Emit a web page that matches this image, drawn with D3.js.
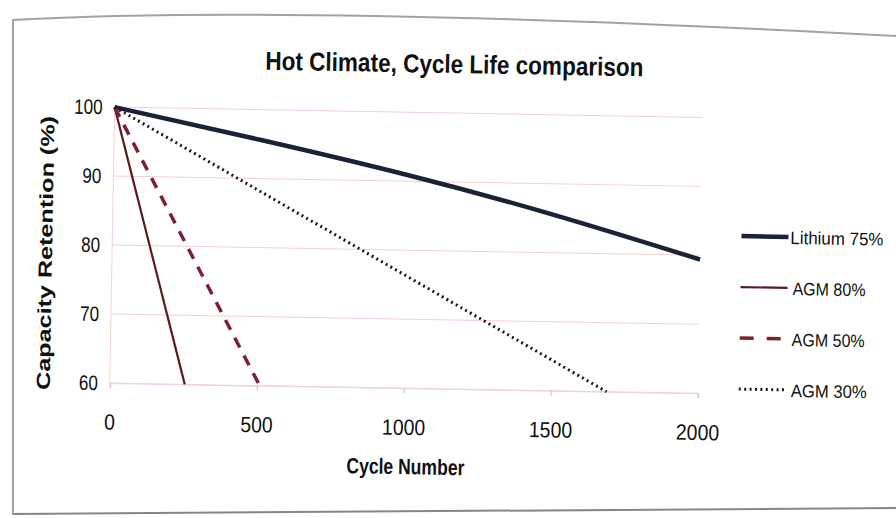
<html>
<head>
  <title>Hot Climate, Cycle Life comparison</title>
  <script src="https://d3js.org/d3.v7.min.js"></script>
  <style>
    body { margin: 0; background: #fff; }
    text { font-family: "Liberation Sans", Arial, sans-serif; fill: #111; }
  </style>
</head>
<body>
<script>
// cycle number / capacity retention
var lithiumX = [0, 500, 1000, 1500, 2000],
    lithiumY = [100, 95.6, 90.9, 85.5, 79.4];
var agm80X = [0, 255], agm80Y = [100, 60];
var agm50X = [0, 510], agm50Y = [100, 60];
var agm30X = [0, 1690], agm30Y = [100, 60];

var seriesNames = ["Lithium 75%", "AGM 80%", "AGM 50%", "AGM 30%"];
var xTicks = [0, 500, 1000, 1500, 2000];
var yTicks = [60, 70, 80, 90, 100];

var width = 896, height = 518;
var svg = d3.select("body").append("svg")
  .attr("width", width).attr("height", height);

// the printed page edge in the photo
svg.append("path")
  .attr("d", "M13,515 L13,20 Q300,4 896,36")
  .attr("fill", "none").attr("stroke", "#a8a0a0").attr("stroke-width", 2);
svg.append("line").attr("x1", 13).attr("x2", 896).attr("y1", 514).attr("y2", 508)
  .attr("stroke", "#8a8585").attr("stroke-width", 2);

var g = svg.append("g").attr("transform", "rotate(1 450 260)");

var x = d3.scaleLinear().domain([0, 2000]).range([112, 700]);
var y = d3.scaleLinear().domain([60, 100]).range([389, 113]);

// gridlines
g.append("g").selectAll("line").data(yTicks).enter().append("line")
  .attr("x1", x(0)).attr("x2", x(2000))
  .attr("y1", d => y(d)).attr("y2", d => y(d))
  .attr("stroke", "#f3cfcf").attr("stroke-width", 1);

g.append("line").attr("x1", x(0)).attr("x2", x(0)).attr("y1", y(100)).attr("y2", y(60))
  .attr("stroke", "#efd3d3");

var xAxis = g.append("g").attr("transform", "translate(0," + y(60) + ")")
  .call(d3.axisBottom(x).tickValues(xTicks).tickFormat(d3.format("d")).tickSize(5).tickPadding(26));
xAxis.select(".domain").attr("stroke", "#efd3d3");
xAxis.selectAll(".tick line").attr("stroke", "#cbbcbc");
xAxis.selectAll("text").attr("font-size", 22).attr("fill", "#111")
  .attr("textLength", d => String(d).length * 10.8).attr("lengthAdjust", "spacingAndGlyphs");

var yAxis = g.append("g").attr("transform", "translate(" + x(0) + ",0)")
  .call(d3.axisLeft(y).tickValues(yTicks).tickSize(0).tickPadding(12));
yAxis.select(".domain").remove();
yAxis.selectAll("text").attr("font-size", 21).attr("fill", "#111")
  .attr("textLength", d => String(d).length * 9.5).attr("lengthAdjust", "spacingAndGlyphs");

var line = d3.line().x(d => x(d[0])).y(d => y(d[1]));
var zip = (xs, ys) => xs.map((v, i) => [v, ys[i]]);

var styles = [
  { data: zip(lithiumX, lithiumY), color: "#1b2238", w: 4.5, dash: null, curve: d3.curveNatural },
  { data: zip(agm80X, agm80Y), color: "#5e1a1f", w: 2.2, dash: null },
  { data: zip(agm50X, agm50Y), color: "#7b2230", w: 3.5, dash: "11,9" },
  { data: zip(agm30X, agm30Y), color: "#1a1a1a", w: 3, dash: "2,3.4" }
];

styles.forEach(function(s) {
  g.append("path").datum(s.data)
    .attr("d", line.curve(s.curve || d3.curveLinear))
    .attr("fill", "none")
    .attr("stroke", s.color)
    .attr("stroke-width", s.w)
    .attr("stroke-dasharray", s.dash);
});

// title and axis titles
g.append("text").attr("x", 451).attr("y", 73).attr("text-anchor", "middle")
  .attr("font-size", 26).attr("font-weight", "bold")
  .attr("textLength", 378).attr("lengthAdjust", "spacingAndGlyphs")
  .text("Hot Climate, Cycle Life comparison");
g.append("text").attr("x", 409).attr("y", 475).attr("text-anchor", "middle")
  .attr("font-size", 22).attr("font-weight", "bold")
  .attr("textLength", 118).attr("lengthAdjust", "spacingAndGlyphs")
  .text("Cycle Number");
g.append("text").attr("transform", "translate(52,260) rotate(-90)").attr("text-anchor", "middle")
  .attr("font-size", 19).attr("font-weight", "bold")
  .attr("textLength", 274).attr("lengthAdjust", "spacingAndGlyphs")
  .text("Capacity Retention (%)");

// legend
var legend = g.append("g").selectAll("g").data(seriesNames).enter().append("g")
  .attr("transform", (d, i) => "translate(741," + (231 + i * 51) + ")");
legend.append("line").attr("x1", 0).attr("x2", 47).attr("y1", 0).attr("y2", 0)
  .attr("stroke", (d, i) => styles[i].color)
  .attr("stroke-width", (d, i) => styles[i].w)
  .attr("stroke-dasharray", (d, i) => i === 2 ? "14,13" : styles[i].dash);
legend.append("text").attr("x", (d, i) => i === 0 ? 49 : 52).attr("y", 7).attr("font-size", 18)
  .attr("textLength", (d, i) => [93, 73, 73, 76][i]).attr("lengthAdjust", "spacingAndGlyphs")
  .text(d => d);
</script>
</body>
</html>
